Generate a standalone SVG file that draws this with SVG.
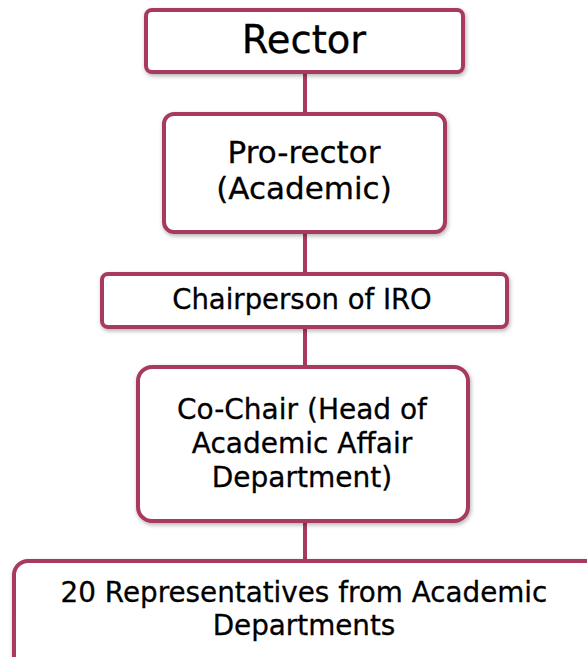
<svg xmlns="http://www.w3.org/2000/svg" width="587" height="657" viewBox="0 0 587 657">
<style>
.box{fill:#fff;stroke:#A63A5F;stroke-width:4;filter:url(#sh)}
.t{font-family:"DejaVu Sans",sans-serif;fill:#000;text-anchor:middle;dominant-baseline:central;stroke:#000;stroke-width:0.3}
.c{stroke:#A63A5F;stroke-width:4;fill:none}
</style>
<defs>
<filter id="sh" x="-10%" y="-10%" width="120%" height="130%">
<feDropShadow dx="1" dy="2" stdDeviation="2" flood-color="#000" flood-opacity="0.3"/>
</filter>
</defs>
<g id="connectors">
<line class="c" x1="305" y1="72" x2="305" y2="113"/>
<line class="c" x1="305" y1="232" x2="305" y2="274"/>
<line class="c" x1="305" y1="327" x2="305" y2="367"/>
<line class="c" x1="305" y1="521" x2="305" y2="560"/>
</g>
<g id="rector">
<rect class="box" x="146" y="10" width="317" height="62" rx="6"/>
<text class="t" x="304" y="39" font-size="38.5">Rector</text>
</g>
<g id="prorector">
<rect class="box" x="164" y="114" width="281" height="118" rx="10"/>
<text class="t" x="304" y="152" font-size="31">Pro-rector</text>
<text class="t" x="304" y="188" font-size="31">(Academic)</text>
</g>
<g id="chairperson">
<rect class="box" x="102" y="274" width="405" height="53" rx="6"/>
<text class="t" x="302" y="299" font-size="27.5">Chairperson of IRO</text>
</g>
<g id="cochair">
<rect class="box" x="138" y="367" width="330" height="154" rx="14"/>
<text class="t" x="302" y="409" font-size="28">Co-Chair (Head of</text>
<text class="t" x="302" y="443" font-size="28">Academic Affair</text>
<text class="t" x="302" y="477" font-size="28">Department)</text>
</g>
<g id="reps">
<rect class="box" x="14" y="561" width="600" height="110" rx="14"/>
<text class="t" x="304" y="592" font-size="27.8">20 Representatives from Academic</text>
<text class="t" x="304" y="625" font-size="27.8">Departments</text>
</g>
</svg>
